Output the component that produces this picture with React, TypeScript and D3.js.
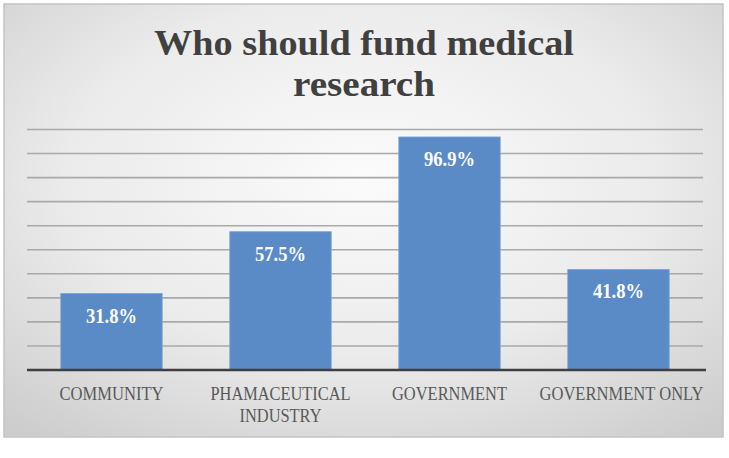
import React from "react";
import * as d3 from "d3";

const categories = ["COMMUNITY", "PHAMACEUTICAL INDUSTRY", "GOVERNMENT", "GOVERNMENT ONLY"];
const categoryLines = [["COMMUNITY"], ["PHAMACEUTICAL", "INDUSTRY"], ["GOVERNMENT"], ["GOVERNMENT ONLY"]];
const values = [31.8, 57.5, 96.9, 41.8];
const gridTicks = [0, 10, 20, 30, 40, 50, 60, 70, 80, 90, 100];
const titleLines = ["Who should fund medical", "research"];

const serif = "'Liberation Serif', 'DejaVu Serif', serif";

export default function App() {
  const W = 729;
  const H = 458;
  const plot = { left: 27, right: 703, top: 129.5, bottom: 370 };

  const x = d3
    .scaleBand<string>()
    .domain(categories)
    .range([plot.left, plot.right])
    .paddingInner(0.4)
    .paddingOuter(0.2);

  const y = d3.scaleLinear().domain([0, 100]).range([plot.bottom, plot.top]);

  const fmt = (v: number) => `${v.toFixed(1)}%`;

  // measured label widths from the reference (condensed serif look)
  const labelWidth: Record<string, number> = {
    COMMUNITY: 104,
    PHAMACEUTICAL: 140,
    INDUSTRY: 82,
    GOVERNMENT: 115,
    "GOVERNMENT ONLY": 164,
  };

  return (
    <svg
      width={W}
      height={H}
      style={{ position: "absolute", left: 0, top: 0, background: "#fff" }}
    >
      <defs>
        <radialGradient id="bg" cx="0.5" cy="0.4" r="0.75">
          <stop offset="0" stopColor="#fbfbfb" />
          <stop offset="0.55" stopColor="#ebebeb" />
          <stop offset="1" stopColor="#cdcdcd" />
        </radialGradient>
      </defs>

      {/* chart area */}
      <rect x={4} y={4} width={719} height={433} fill="url(#bg)" stroke="#c4c4c4" strokeWidth={1.5} />

      {/* title */}
      {titleLines.map((t, i) => (
        <text
          key={t}
          x={364}
          y={55 + i * 41}
          textAnchor="middle"
          fontFamily={serif}
          fontWeight="bold"
          fontSize={36}
          fill="#404040"
          textLength={i === 0 ? 420 : 142}
          lengthAdjust="spacingAndGlyphs"
        >
          {t}
        </text>
      ))}

      {/* gridlines */}
      {gridTicks
        .filter((t) => t > 0)
        .map((t) => (
          <line
            key={t}
            x1={plot.left}
            x2={plot.right}
            y1={y(t)}
            y2={y(t)}
            stroke="#a9a9a9"
            strokeWidth={1.6}
          />
        ))}

      {/* bars */}
      {categories.map((c, i) => (
        <g key={c}>
          <rect
            x={x(c)}
            y={y(values[i])}
            width={x.bandwidth()}
            height={y(0) - y(values[i])}
            fill="#5b8bc6"
            stroke="#7aa3d6"
            strokeWidth={0.8}
          />
          <text
            x={(x(c) as number) + x.bandwidth() / 2}
            y={y(values[i]) + 29}
            textAnchor="middle"
            fontFamily={serif}
            fontWeight="bold"
            fontSize={20}
            fill="#ffffff"
            textLength={51}
            lengthAdjust="spacingAndGlyphs"
          >
            {fmt(values[i])}
          </text>
        </g>
      ))}

      {/* baseline */}
      <line x1={plot.left} x2={plot.right + 3} y1={y(0)} y2={y(0)} stroke="#3f3f3f" strokeWidth={2.5} />

      {/* category labels */}
      {categories.map((c, i) =>
        categoryLines[i].map((line, j) => (
          <text
            key={c + j}
            x={(x(c) as number) + x.bandwidth() / 2 + (i === 3 ? 3 : 0)}
            y={400 + j * 21.7}
            textAnchor="middle"
            fontFamily={serif}
            fontSize={19}
            fill="#595959"
            textLength={labelWidth[line]}
            lengthAdjust="spacingAndGlyphs"
          >
            {line}
          </text>
        ))
      )}
    </svg>
  );
}
